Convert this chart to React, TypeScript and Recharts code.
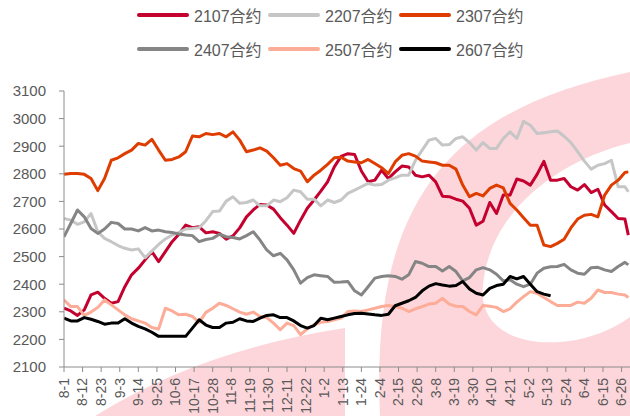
import { LineChart, Line, XAxis, YAxis, Legend } from 'recharts'

const FONT = '"Liberation Sans", Arial, "Noto Sans CJK SC", sans-serif'
const TEXT = '#595959'
const AXIS = '#8c8c8c'

// days counted from 8-1
const days = [
  0, 4, 8, 12, 16, 20, 24, 28, 32, 36, 40, 44, 48, 52, 56, 60, 64, 68, 72, 76, 80,
  84, 88, 92, 96, 100, 104, 108, 112, 116, 120, 124, 128, 132, 136, 140, 144, 148, 152, 156, 160,
  164, 168, 172, 176, 180, 184, 188, 192, 196, 200, 204, 208, 212, 216, 220, 224, 228, 232, 236, 240,
  244, 248, 252, 256, 260, 264, 268, 272, 276, 280, 284, 288, 292, 296, 300, 304, 308, 312, 316, 320,
  324, 328, 332, 334,
]

const tickDays = [0, 11, 22, 33, 44, 55, 66, 77, 88, 99, 110, 121, 132, 143, 154, 165, 176, 187, 198, 209, 220, 231, 242, 253, 264, 275, 286, 297, 308, 319, 330]
const tickLabels = ['8-1', '8-12', '8-23', '9-3', '9-14', '9-25', '10-6', '10-17', '10-28', '11-8', '11-19', '11-30', '12-11', '12-22', '1-2', '1-13', '1-24', '2-4', '2-15', '2-26', '3-8', '3-19', '3-30', '4-10', '4-21', '5-2', '5-13', '5-24', '6-4', '6-15', '6-26']
const yTicks = [2100, 2200, 2300, 2400, 2500, 2600, 2700, 2800, 2900, 3000, 3100]

const c2107 = [
  2313, 2303, 2287, 2307, 2361, 2371, 2349, 2331, 2337, 2391, 2434, 2458, 2488, 2518, 2482, 2518, 2554, 2581, 2614, 2605, 2608,
  2586, 2590, 2584, 2563, 2575, 2604, 2644, 2669, 2689, 2687, 2672, 2641, 2614, 2584, 2632, 2675, 2705, 2737, 2771, 2825,
  2863, 2873, 2870, 2810, 2771, 2777, 2813, 2783, 2807, 2828, 2825, 2795, 2789, 2795, 2771, 2719, 2717, 2708, 2701, 2675,
  2614, 2628, 2696, 2656, 2723, 2723, 2781, 2774, 2759, 2798, 2845, 2777, 2777, 2783, 2753, 2741, 2761, 2732, 2744, 2687,
  2663, 2638, 2636, 2578,
]
const c2207 = [
  2638, 2632, 2617, 2626, 2656, 2590, 2566, 2554, 2540, 2530, 2524, 2528, 2496, 2520, 2544, 2564, 2578, 2588, 2600, 2602, 2605,
  2630, 2663, 2665, 2701, 2717, 2693, 2696, 2705, 2684, 2684, 2705, 2699, 2713, 2741, 2735, 2708, 2708, 2684, 2705, 2696,
  2705, 2729, 2741, 2753, 2765, 2759, 2761, 2777, 2785, 2795, 2795, 2849, 2886, 2922, 2928, 2904, 2906, 2928, 2934, 2913,
  2886, 2913, 2892, 2892, 2928, 2952, 2928, 2990, 2976, 2946, 2949, 2952, 2955, 2936, 2913, 2880, 2846, 2817, 2831, 2837,
  2849, 2753, 2753, 2735,
]
const c2307 = [
  2798, 2801, 2801, 2798, 2783, 2739, 2783, 2849, 2858, 2873, 2886, 2910, 2904, 2925, 2886, 2849, 2852, 2861, 2880, 2937, 2934,
  2946, 2942, 2946, 2934, 2952, 2922, 2880, 2886, 2894, 2882, 2858, 2831, 2837, 2819, 2810, 2771, 2795, 2813, 2834, 2858,
  2860, 2846, 2843, 2840, 2852, 2837, 2822, 2801, 2843, 2867, 2873, 2864, 2846, 2843, 2840, 2831, 2831, 2817, 2759, 2717,
  2729, 2720, 2747, 2759, 2749, 2693, 2669, 2641, 2614, 2614, 2542, 2536, 2548, 2563, 2604, 2636, 2650, 2653, 2644, 2723,
  2759, 2777, 2805, 2807,
]
const c2407 = [
  2572, 2620, 2669, 2644, 2602, 2584, 2600, 2624, 2620, 2600, 2600, 2593, 2605, 2593, 2596, 2590, 2587, 2582, 2578, 2576, 2554,
  2562, 2566, 2581, 2572, 2569, 2564, 2576, 2590, 2560, 2524, 2503, 2512, 2488, 2452, 2404, 2424, 2434, 2431, 2428, 2407,
  2408, 2410, 2376, 2361, 2391, 2422, 2428, 2431, 2428, 2418, 2434, 2482, 2476, 2464, 2464, 2448, 2464, 2446, 2412, 2424,
  2452, 2460, 2452, 2436, 2412, 2416, 2400, 2391, 2400, 2440, 2458, 2463, 2464, 2472, 2452, 2440, 2436, 2460, 2461, 2452,
  2446, 2464, 2479, 2470,
]
const c2507 = [
  2343, 2319, 2319, 2287, 2299, 2316, 2343, 2325, 2307, 2289, 2275, 2267, 2259, 2243, 2238, 2313, 2303, 2289, 2291, 2283, 2262,
  2298, 2313, 2331, 2323, 2311, 2299, 2291, 2299, 2283, 2279, 2259, 2235, 2259, 2250, 2217, 2238, 2253, 2262, 2265, 2271,
  2277, 2301, 2303, 2301, 2307, 2313, 2319, 2323, 2319, 2313, 2301, 2311, 2319, 2328, 2331, 2349, 2328, 2320, 2319, 2301,
  2289, 2323, 2320, 2316, 2301, 2311, 2335, 2355, 2373, 2367, 2352, 2337, 2323, 2323, 2323, 2335, 2331, 2349, 2379, 2370,
  2370, 2364, 2361, 2352,
]
const c2607 = [
  2277, 2267, 2267, 2279, 2273, 2265, 2255, 2259, 2259, 2275, 2259, 2247, 2238, 2226, 2211, 2211, 2211, 2211, 2211, 2241, 2271,
  2252, 2243, 2243, 2259, 2262, 2275, 2267, 2265, 2277, 2287, 2289, 2279, 2279, 2267, 2250, 2241, 2250, 2277, 2271, 2277,
  2283, 2289, 2294, 2295, 2292, 2289, 2287, 2291, 2322, 2331, 2340, 2352, 2376, 2393, 2402, 2397, 2393, 2395, 2410, 2383,
  2367, 2361, 2385, 2395, 2400, 2428, 2419, 2428, 2400, 2373, 2364, 2358, null, null, null, null, null, null, null, null,
  null, null, null, null,
]

const series = [
  { key: 'c2107', name: '2107合约', color: '#C4002F', values: c2107 },
  { key: 'c2207', name: '2207合约', color: '#C6C6C6', values: c2207 },
  { key: 'c2307', name: '2307合约', color: '#DF3D00', values: c2307 },
  { key: 'c2407', name: '2407合约', color: '#858585', values: c2407 },
  { key: 'c2507', name: '2507合约', color: '#FDAC98', values: c2507 },
  { key: 'c2607', name: '2607合约', color: '#000000', values: c2607 },
]

const data = days.map((d, i) => {
  const row: any = { day: d }
  series.forEach(s => { row[s.key] = s.values[i] })
  return row
})

function XTick({ x, y, payload }: any) {
  return (
    <text transform={`translate(${x},${y}) rotate(-90)`} x={-4} dy="0.35em" textAnchor="end"
      fontSize={14} fill={TEXT} fontFamily={FONT}>
      {tickLabels[tickDays.indexOf(payload.value)]}
    </text>
  )
}

function LegendBox({ payload }: any) {
  return (
    <div style={{ paddingLeft: 137, paddingTop: 5, width: 400, display: 'flex', flexWrap: 'wrap', fontFamily: FONT }}>
      {(payload || []).map((p: any) => (
        <div key={p.value} style={{ width: 131, height: 34, display: 'flex', alignItems: 'flex-start' }}>
          <div style={{ height: 20, display: 'flex', alignItems: 'center' }}>
            <span style={{ display: 'inline-block', width: 52, height: 4, borderRadius: 2, background: p.color, marginRight: 5 }} />
            <span style={{ fontSize: 16, color: TEXT, whiteSpace: 'nowrap' }}>{p.value}</span>
          </div>
        </div>
      ))}
    </div>
  )
}

// faint logo watermark behind the plot
function Watermark() {
  const pink = '#FCD6DB'
  return (
    <svg width={630} height={416} style={{ position: 'absolute', left: 0, top: 0 }}>
      <path d="M 95 416 Q 200 350 345 328 L 345 416 Z" fill={pink} />
      <path d="M 380 416 C 370 200 450 110 630 72 L 630 416 Z" fill={pink} />
      <path d="M 630 143 C 560 160 490 210 483 285 C 478 330 520 345 560 342 C 590 340 615 328 630 317 Z" fill="#ffffff" />
    </svg>
  )
}

export default function App() {
  return (
    <div style={{ position: 'absolute', left: 0, top: 0, width: 630, height: 416, background: '#fff', overflow: 'hidden' }}>
      <Watermark />
      <div style={{ position: 'absolute', left: 0, top: 0 }}>
        <LineChart width={630} height={416} data={data} margin={{ top: 91, right: 0, bottom: 0, left: 0 }}>
          <Legend layout="horizontal" verticalAlign="middle" align="center"
            wrapperStyle={{ top: 0, left: 0, width: 630, height: 70 }} content={<LegendBox />} />
          <XAxis dataKey="day" type="number" domain={[0, 335]} ticks={tickDays} interval={0}
            allowDataOverflow height={49} stroke={AXIS} tickSize={5} tickMargin={2} tick={<XTick />} />
          <YAxis type="number" domain={[2100, 3100]} ticks={yTicks} interval={0} width={64}
            stroke={AXIS} tickSize={5} tickMargin={13}
            tick={{ fill: TEXT, fontSize: 15, fontFamily: FONT }} />
          {series.map(s => (
            <Line key={s.key} type="linear" dataKey={s.key} name={s.name} stroke={s.color} strokeWidth={3}
              dot={false} activeDot={false} strokeLinejoin="round" isAnimationActive={false} />
          ))}
        </LineChart>
      </div>
    </div>
  )
}
